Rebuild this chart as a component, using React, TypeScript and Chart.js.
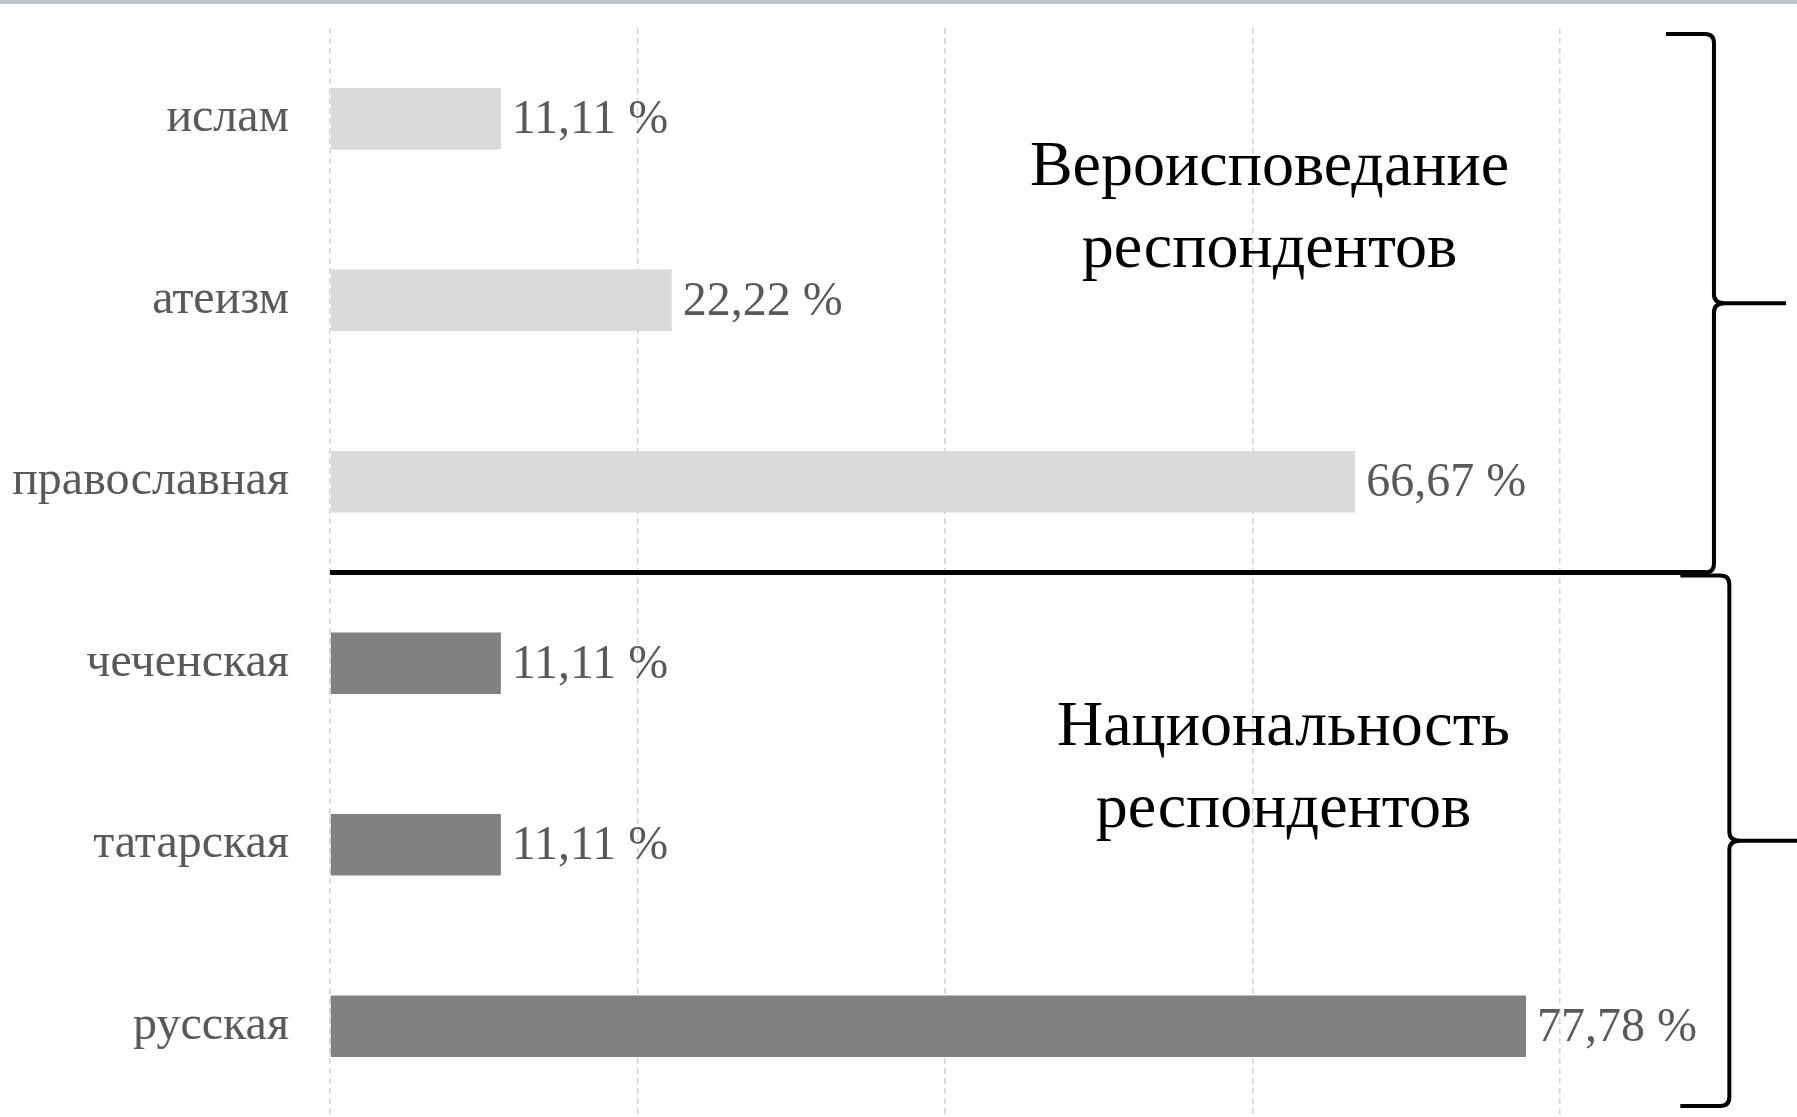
import React, { useEffect, useRef } from 'react';
import { Chart, registerables, ChartConfiguration, Plugin } from 'chart.js';

Chart.register(...registerables);

const categories = ['ислам', 'атеизм', 'православная', 'чеченская', 'татарская', 'русская'];
const shares = [11.11, 22.22, 66.67, 11.11, 11.11, 77.78];
const groups = ['religion', 'religion', 'religion', 'nation', 'nation', 'nation'];
const groupTitles = [
  ['Вероисповедание', 'респондентов'],
  ['Национальность', 'респондентов'],
];
const xTicks = [0, 20, 40, 60, 80];

const X_MAX = 95.4;
const FONT = '"Liberation Serif", "Times New Roman", serif';

// small dotted texture like the printed bars
const makePattern = (base: string, dot: string) => {
  const c = document.createElement('canvas');
  c.width = 4;
  c.height = 4;
  const g = c.getContext('2d')!;
  g.fillStyle = base;
  g.fillRect(0, 0, 4, 4);
  g.fillStyle = dot;
  g.fillRect(0, 0, 1, 1);
  g.fillRect(2, 2, 1, 1);
  return g.createPattern(c, 'repeat')!;
};

const formatShare = (v: number) => v.toFixed(2).replace('.', ',') + ' %';

const valueLabels: Plugin = {
  id: 'valueLabels',
  afterDatasetsDraw(chart) {
    const { ctx } = chart;
    const meta = chart.getDatasetMeta(0);
    ctx.save();
    ctx.font = `48px ${FONT}`;
    ctx.fillStyle = '#595959';
    ctx.textAlign = 'left';
    ctx.textBaseline = 'middle';
    meta.data.forEach((bar: any, i) => {
      ctx.fillText(formatShare(shares[i]), bar.x + 11, bar.y + 2);
    });
    ctx.restore();
  },
};

const brace = (ctx: CanvasRenderingContext2D, x: number, top: number, bottom: number, tipX: number, hook: number) => {
  const mid = (top + bottom) / 2;
  const r = 9;
  ctx.beginPath();
  ctx.moveTo(x - hook, top);
  ctx.lineTo(x - r, top);
  ctx.quadraticCurveTo(x, top, x, top + r);
  ctx.lineTo(x, mid - r);
  ctx.quadraticCurveTo(x, mid, x + r + 2, mid);
  ctx.lineTo(tipX, mid);
  ctx.moveTo(x + r + 2, mid);
  ctx.quadraticCurveTo(x, mid, x, mid + r);
  ctx.lineTo(x, bottom - r);
  ctx.quadraticCurveTo(x, bottom, x - r, bottom);
  ctx.lineTo(x - hook, bottom);
  ctx.stroke();
};

const groupMarks: Plugin = {
  id: 'groupMarks',
  beforeDraw(chart) {
    const { ctx, width } = chart;
    ctx.save();
    ctx.fillStyle = '#bfc3cc';
    ctx.fillRect(0, 0, width, 4);
    ctx.restore();
  },
  afterDraw(chart) {
    const { ctx, chartArea, width } = chart;
    const x = chart.scales.x;
    const y = chart.scales.y;
    const band = y.getPixelForValue(1) - y.getPixelForValue(0);
    const splitY = (y.getPixelForValue(2) + y.getPixelForValue(3)) / 2;
    const upperX = x.getPixelForValue(90);
    const lowerX = x.getPixelForValue(91);

    ctx.save();
    ctx.strokeStyle = '#000';
    ctx.lineWidth = 5;
    ctx.beginPath();
    ctx.moveTo(chartArea.left, splitY);
    ctx.lineTo(upperX - 8, splitY);
    ctx.stroke();

    ctx.lineWidth = 4;
    brace(ctx, upperX, y.getPixelForValue(0) - band / 2 + 6, splitY, upperX + 72, 48);
    brace(ctx, lowerX, splitY + 3, chartArea.bottom - 11, width, 49);

    // group captions
    ctx.fillStyle = '#000';
    ctx.font = `64px ${FONT}`;
    ctx.textAlign = 'center';
    ctx.textBaseline = 'alphabetic';
    const upperMid = (y.getPixelForValue(0) + y.getPixelForValue(1)) / 2;
    const lowerMid = (y.getPixelForValue(3) + y.getPixelForValue(4)) / 2;
    const ux = x.getPixelForValue(61.1);
    const lx = x.getPixelForValue(62);
    ctx.fillText(groupTitles[0][0], ux, upperMid - 25);
    ctx.fillText(groupTitles[0][1], ux, upperMid + 57);
    ctx.fillText(groupTitles[1][0], lx, lowerMid - 9);
    ctx.fillText(groupTitles[1][1], lx, lowerMid + 73);
    ctx.restore();
  },
};

const App: React.FC = () => {
  const chartRef = useRef<HTMLCanvasElement | null>(null);
  const chartInstance = useRef<Chart | null>(null);

  useEffect(() => {
    if (!chartRef.current) return;
    document.body.style.margin = '0';

    const light = makePattern('#dcdcdc', '#cdcdcd');
    const dark = makePattern('#7f7f7f', '#8d8d8d');

    const config: ChartConfiguration = {
      type: 'bar',
      data: {
        labels: categories,
        datasets: [{
          label: 'Доля респондентов',
          data: shares,
          backgroundColor: groups.map(g => (g === 'religion' ? light : dark)),
          borderWidth: 0,
          barPercentage: 0.34,
          categoryPercentage: 1,
        }],
      },
      options: {
        indexAxis: 'y',
        responsive: true,
        maintainAspectRatio: false,
        animation: false,
        layout: { padding: { top: 28, left: 0, right: 0, bottom: 0 } },
        plugins: {
          legend: { display: false },
          tooltip: { enabled: false },
        },
        scales: {
          x: {
            min: 0,
            max: X_MAX,
            ticks: { display: false, stepSize: 20 },
            afterBuildTicks: (s: any) => {
              s.ticks = xTicks.map(v => ({ value: v }));
            },
            grid: { color: '#d4d4d4', lineWidth: 1.5, drawTicks: false },
            border: { display: false, dash: [6, 4] },
          },
          y: {
            grid: { display: false, drawTicks: false },
            border: { display: false },
            ticks: {
              color: '#595959',
              padding: 41,
              font: { family: FONT, size: 48 },
            },
            afterFit: (s: any) => {
              s.width = 330;
              s.paddingTop = 0;
              s.paddingBottom = 0;
            },
          },
        },
      } as any,
      plugins: [valueLabels, groupMarks],
    };

    if (chartInstance.current) {
      chartInstance.current.destroy();
    }
    chartInstance.current = new Chart(chartRef.current, config);

    return () => chartInstance.current?.destroy();
  }, []);

  return (
    <div style={{ position: 'relative', width: 1797, height: 1117, background: '#fff' }}>
      <canvas ref={chartRef} />
    </div>
  );
};

export default App;
